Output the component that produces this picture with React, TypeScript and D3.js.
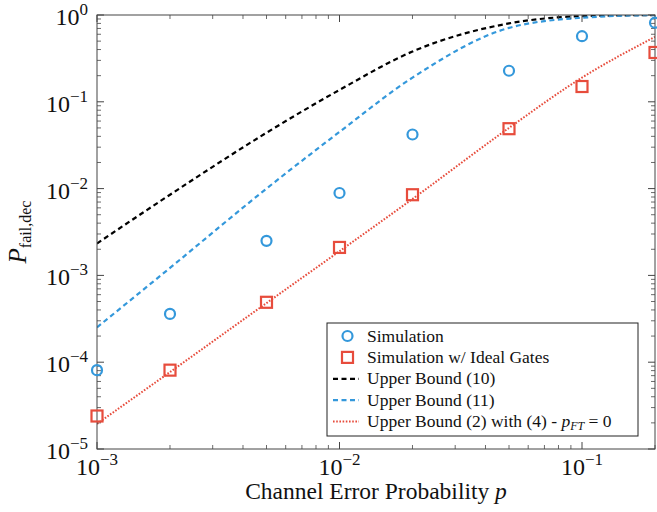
import React from 'react';
import * as d3 from 'd3';

// channel error probabilities used for every series
const pValues = [0.001, 0.002, 0.005, 0.01, 0.02, 0.05, 0.1, 0.2];

const simulation = [8.1e-5, 3.6e-4, 2.5e-3, 8.9e-3, 4.2e-2, 0.228, 0.57, 0.815];
const simulationIdeal = [2.4e-5, 8.1e-5, 4.9e-4, 2.1e-3, 8.5e-3, 0.049, 0.15, 0.37];
const upperBound10 = [2.33e-3, 8.5e-3, 0.044, 0.137, 0.38, 0.8, 0.97, 1.0];
const upperBound11 = [2.52e-4, 1.22e-3, 0.01, 0.045, 0.19, 0.71, 0.93, 1.0];
const upperBound2 = [1.95e-5, 7.7e-5, 4.8e-4, 1.9e-3, 7.6e-3, 0.05, 0.19, 0.56];

const xMajorTicks = [1e-3, 1e-2, 1e-1];
const xMajorLabels = ['−3', '−2', '−1'];
const yMajorTicks = [1e0, 1e-1, 1e-2, 1e-3, 1e-4, 1e-5];
const yMajorLabels = ['0', '−1', '−2', '−3', '−4', '−5'];

const BLUE = '#3498db';
const RED = '#e74c3c';

const width = 657;
const height = 512;
const margin = { top: 15, right: 2, bottom: 63, left: 97 };

const App = () => {
  const innerW = width - margin.left - margin.right;
  const innerH = height - margin.top - margin.bottom;

  const x = d3.scaleLog().domain([1e-3, 0.2]).range([0, innerW]);
  const y = d3.scaleLog().domain([1e-5, 1]).range([innerH, 0]);

  const minorX: number[] = [];
  [1e-3, 1e-2, 1e-1].forEach((d) => {
    for (let k = 2; k <= 9; k++) {
      const v = d * k;
      if (v <= 0.2 + 1e-9) minorX.push(v);
    }
  });
  const minorY: number[] = [];
  [1e-5, 1e-4, 1e-3, 1e-2, 1e-1].forEach((d) => {
    for (let k = 2; k <= 9; k++) minorY.push(d * k);
  });

  const line = d3
    .line<number>()
    .x((_, i) => x(pValues[i]))
    .y((d) => y(d))
    .curve(d3.curveMonotoneX);

  const axisColor = '#444';
  const font = '"Liberation Serif", "DejaVu Serif", serif';

  const legend = [
    { label: 'Simulation', kind: 'circle' },
    { label: 'Simulation w/ Ideal Gates', kind: 'square' },
    { label: 'Upper Bound (10)', kind: 'black' },
    { label: 'Upper Bound (11)', kind: 'blue' },
    { label: 'ub2', kind: 'red' },
  ];

  return (
    <svg width={width} height={height} style={{ position: 'absolute', left: 0, top: 0, background: '#fff' }} fontFamily={font}>
      <defs>
        <clipPath id="plot-clip">
          <rect x={0} y={0} width={innerW} height={innerH} />
        </clipPath>
      </defs>
      <g transform={`translate(${margin.left},${margin.top})`}>
        {/* lines */}
        <g clipPath="url(#plot-clip)">
          <path d={line(upperBound10) || ''} fill="none" stroke="#000" strokeWidth={2.2} strokeDasharray="5,3.5" />
          <path d={line(upperBound11) || ''} fill="none" stroke={BLUE} strokeWidth={2.2} strokeDasharray="5,3.5" />
          <path d={line(upperBound2) || ''} fill="none" stroke={RED} strokeWidth={2} strokeDasharray="1.6,1.6" />
        </g>

        {/* frame */}
        <rect x={0} y={0} width={innerW} height={innerH} fill="none" stroke={axisColor} strokeWidth={1} />

        {/* x ticks */}
        {xMajorTicks.map((t) => (
          <g key={`xm${t}`}>
            <line x1={x(t)} x2={x(t)} y1={innerH} y2={innerH - 7} stroke={axisColor} />
            <line x1={x(t)} x2={x(t)} y1={0} y2={7} stroke={axisColor} />
          </g>
        ))}
        {minorX.map((t) => (
          <g key={`xn${t}`}>
            <line x1={x(t)} x2={x(t)} y1={innerH} y2={innerH - 4} stroke={axisColor} strokeWidth={0.8} />
            <line x1={x(t)} x2={x(t)} y1={0} y2={4} stroke={axisColor} strokeWidth={0.8} />
          </g>
        ))}
        {/* y ticks */}
        {yMajorTicks.map((t) => (
          <g key={`ym${t}`}>
            <line x1={0} x2={7} y1={y(t)} y2={y(t)} stroke={axisColor} />
            <line x1={innerW} x2={innerW - 7} y1={y(t)} y2={y(t)} stroke={axisColor} />
          </g>
        ))}
        {minorY.map((t) => (
          <g key={`yn${t}`}>
            <line x1={0} x2={4} y1={y(t)} y2={y(t)} stroke={axisColor} strokeWidth={0.8} />
            <line x1={innerW} x2={innerW - 4} y1={y(t)} y2={y(t)} stroke={axisColor} strokeWidth={0.8} />
          </g>
        ))}

        {/* tick labels */}
        {xMajorTicks.map((t, i) => (
          <text key={`xl${t}`} x={x(t)} y={innerH + 26} textAnchor="middle" fontSize={24} fill="#111">
            10<tspan fontSize={17} dy={-10}>{xMajorLabels[i]}</tspan>
          </text>
        ))}
        {yMajorTicks.map((t, i) => (
          <text key={`yl${t}`} x={-9} y={y(t) + 10} textAnchor="end" fontSize={24} fill="#111">
            10<tspan fontSize={17} dy={-10}>{yMajorLabels[i]}</tspan>
          </text>
        ))}

        {/* markers */}
        {simulation.map((v, i) => (
          <circle key={`c${i}`} cx={x(pValues[i])} cy={y(v)} r={5} fill="none" stroke={BLUE} strokeWidth={2.2} />
        ))}
        {simulationIdeal.map((v, i) => (
          <rect key={`s${i}`} x={x(pValues[i]) - 5.5} y={y(v) - 5.5} width={11} height={11} fill="none" stroke={RED} strokeWidth={2.2} />
        ))}

        {/* axis titles */}
        <text x={innerW / 2} y={innerH + 50} textAnchor="middle" fontSize={23.5} fill="#111">
          Channel Error Probability <tspan fontStyle="italic">p</tspan>
        </text>
        <text transform={`translate(${26 - margin.left},${innerH / 2}) rotate(-90)`} textAnchor="middle" fontSize={25} fill="#111">
          <tspan fontStyle="italic">P</tspan>
          <tspan fontSize={16} dy={5}>fail,dec</tspan>
        </text>
      </g>

      {/* legend */}
      <g transform="translate(327,323)">
        <rect x={0} y={0} width={311} height={113} fill="#fff" stroke="#222" strokeWidth={1} />
        {legend.map((e, i) => {
          const cy = 13 + i * 21.4;
          return (
            <g key={e.kind}>
              {e.kind === 'circle' && <circle cx={20.5} cy={cy} r={5} fill="none" stroke={BLUE} strokeWidth={2.2} />}
              {e.kind === 'square' && <rect x={15} y={cy - 5.5} width={11} height={11} fill="none" stroke={RED} strokeWidth={2.2} />}
              {e.kind === 'black' && <line x1={6} x2={32} y1={cy} y2={cy} stroke="#000" strokeWidth={2.2} strokeDasharray="5,3.5" />}
              {e.kind === 'blue' && <line x1={6} x2={32} y1={cy} y2={cy} stroke={BLUE} strokeWidth={2.2} strokeDasharray="5,3.5" />}
              {e.kind === 'red' && <line x1={6} x2={32} y1={cy} y2={cy} stroke={RED} strokeWidth={2} strokeDasharray="1.6,1.6" />}
              <text x={40} y={cy + 5.5} fontSize={17.5} fill="#111">
                {e.kind === 'red' ? (
                  <>
                    Upper Bound (2) with (4) - <tspan fontStyle="italic">p</tspan>
                    <tspan fontSize={12} dy={3} fontStyle="italic">FT</tspan>
                    <tspan dy={-3}> = 0</tspan>
                  </>
                ) : (
                  e.label
                )}
              </text>
            </g>
          );
        })}
      </g>
    </svg>
  );
};

export default App;
